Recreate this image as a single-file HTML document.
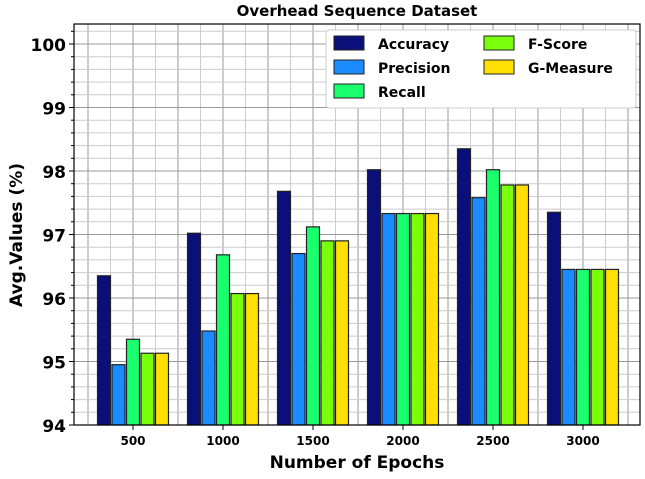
<!DOCTYPE html>
<html><head><meta charset="utf-8"><style>
body{margin:0;background:#fff;}
svg text{font-family:"DejaVu Sans","Liberation Sans",sans-serif;font-weight:bold;}
</style></head><body>
<svg id="chart" width="645" height="474" xmlns="http://www.w3.org/2000/svg">
<text x="357" y="16" text-anchor="middle" font-size="15">Overhead Sequence Dataset</text>
<g id="grid"></g><g id="bars"></g><g id="axes"></g>
<text x="357" y="468" text-anchor="middle" font-size="17">Number of Epochs</text>
<text transform="translate(22,235) rotate(-90)" text-anchor="middle" font-size="17">Avg.Values (%)</text>
<g id="legend"></g>
</svg>
<script>
const categories=["500","1000","1500","2000","2500","3000"];
const seriesNames=["Accuracy","Precision","Recall","F-Score","G-Measure"];
const accuracy=[96.35,97.02,97.68,98.02,98.35,97.35];
const precision=[94.95,95.48,96.70,97.33,97.58,96.45];
const recall=[95.35,96.68,97.12,97.33,98.02,96.45];
const fscore=[95.13,96.07,96.90,97.33,97.78,96.45];
const gmeasure=[95.13,96.07,96.90,97.33,97.78,96.45];
const yTicks=[94,95,96,97,98,99,100];
const series=[accuracy,precision,recall,fscore,gmeasure];
const colors=["#0a0f7a","#1a8cff","#1aff6e","#7aff0a","#ffe000"];
const NS="http://www.w3.org/2000/svg";
const L=74,R=640,T=24,B=425;
const y=v=>425-(v-94)*63.5;
const x=i=>133+i*90;
function mk(tag,attrs,parent){const e=document.createElementNS(NS,tag);for(const k in attrs)e.setAttribute(k,attrs[k]);parent.appendChild(e);return e;}
const grid=document.getElementById('grid'),bars=document.getElementById('bars'),axes=document.getElementById('axes');
// vertical grid
for(let gx=133-90*2;gx<=R;gx+=22.5){if(gx<=L)continue;const major=Math.abs(((gx-133)/45)%1)<0.01;
const ln=mk('line',{x1:gx,x2:gx,y1:T,y2:B,stroke:major?'#999':'#ccc','stroke-width':1},grid);

}
for(let v=94;v<=100.3;v+=0.2){const yy=y(v);if(yy<T)break;const major=Math.abs(v-Math.round(v))<0.01;
const ln=mk('line',{x1:L,x2:R,y1:yy,y2:yy,stroke:major?'#999':'#ccc','stroke-width':1},grid);


mk('line',{x1:L-(major?5:3),x2:L,y1:yy,y2:yy,stroke:'#000'},axes);}
const bw=13,step=14.5;
series.forEach((s,si)=>{s.forEach((v,i)=>{const bx=x(i)+(si-2)*step-bw/2;
const r=mk('rect',{x:bx,y:y(v),width:bw,height:B-y(v),fill:colors[si],stroke:'#222','stroke-width':1.2},bars);

});});
mk('rect',{x:L,y:T,width:R-L,height:B-T,fill:'none',stroke:'#000','stroke-width':1.2},axes);
yTicks.forEach(v=>{const t=mk('text',{x:L-8,y:y(v)+7,'text-anchor':'end','font-size':17},axes);t.textContent=v;

});
categories.forEach((c,i)=>{mk('line',{x1:x(i),x2:x(i),y1:B,y2:B+5,stroke:'#000'},axes);
const t=mk('text',{x:x(i),y:B+20,'text-anchor':'middle','font-size':12},axes);t.textContent=c;

});
const lg=document.getElementById('legend');
mk('rect',{x:326,y:30,width:310,height:78,fill:'#fff',stroke:'#ccc',rx:3},lg);
const pos=[[334,36],[334,60],[334,84],[484,36],[484,60]];
seriesNames.forEach((n,si)=>{const [lx,ly]=pos[si];
mk('rect',{x:lx,y:ly,width:30,height:14,fill:colors[si],stroke:'#222'},lg);
const t=mk('text',{x:lx+44,y:ly+13,'font-size':14},lg);t.textContent=n;

});
</script>
</body></html>
